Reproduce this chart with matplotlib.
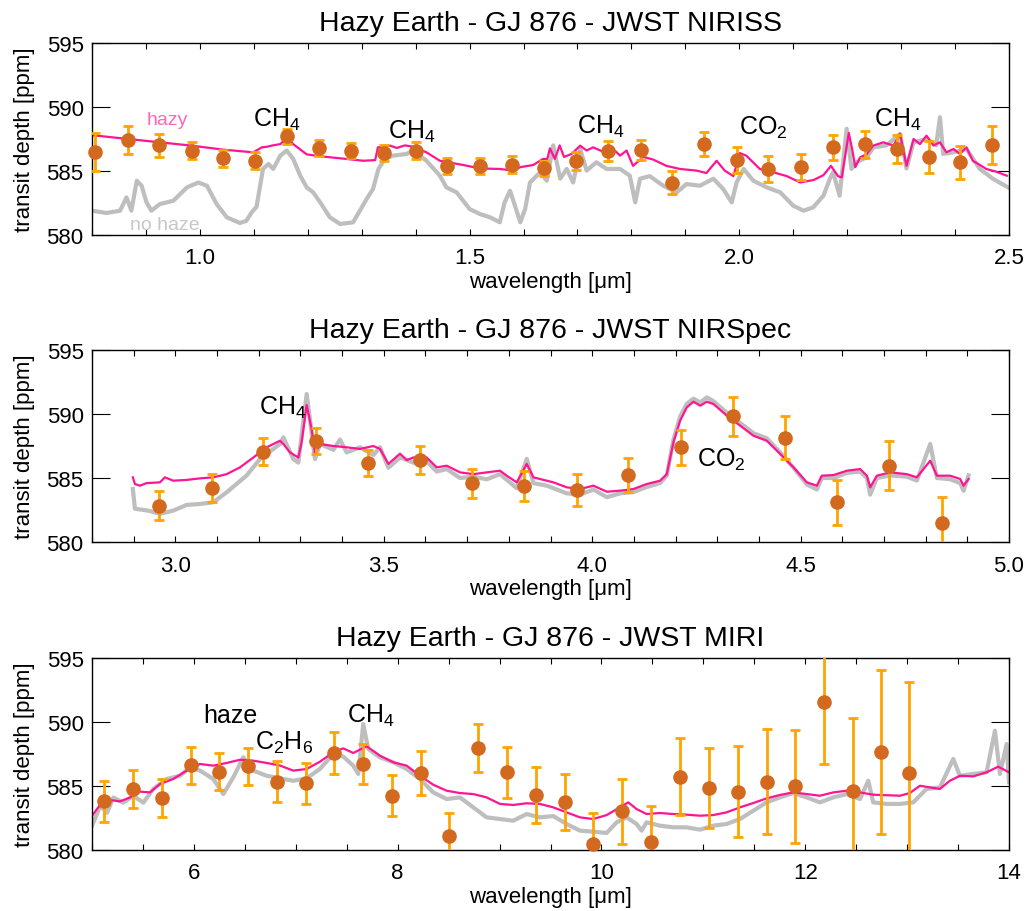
import matplotlib
matplotlib.use("Agg")
import matplotlib.pyplot as plt
from matplotlib.ticker import MultipleLocator, NullLocator

plt.rcParams['font.family'] = ['Liberation Sans', 'DejaVu Sans']
plt.rcParams['mathtext.fontset'] = 'custom'
plt.rcParams['mathtext.rm'] = 'Liberation Sans'
plt.rcParams['mathtext.it'] = 'Liberation Sans'
plt.rcParams['mathtext.default'] = 'regular'

# ---------------- NIRISS ----------------
niriss_hazy_wl = [0.800, 0.867, 0.926, 0.985, 1.043, 1.099, 1.115, 1.125, 1.135, 1.149,
                  1.162, 1.173, 1.198, 1.223, 1.272, 1.303, 1.325, 1.330, 1.353, 1.365,
                  1.380, 1.395, 1.420, 1.445, 1.488, 1.519, 1.556, 1.581, 1.594, 1.618,
                  1.636, 1.644, 1.649, 1.658, 1.667, 1.675, 1.689, 1.705, 1.717, 1.729,
                  1.748, 1.764, 1.779, 1.791, 1.803, 1.822, 1.840, 1.865, 1.890, 1.921,
                  1.939, 1.958, 1.973, 1.989, 2.001, 2.013, 2.038, 2.063, 2.088, 2.113,
                  2.138, 2.156, 2.170, 2.183, 2.190, 2.203, 2.209, 2.215, 2.224, 2.236,
                  2.248, 2.267, 2.286, 2.298, 2.310, 2.323, 2.335, 2.347, 2.360, 2.372,
                  2.384, 2.397, 2.409, 2.421, 2.433, 2.458, 2.476, 2.496]
niriss_hazy = [587.80, 587.50, 587.24, 586.98, 586.67, 586.46, 586.85, 586.90, 587.00, 587.10,
               587.60, 587.10, 586.30, 586.15, 585.94, 585.80, 585.85, 586.85, 586.98, 586.80,
               587.00, 586.90, 586.46, 585.80, 585.47, 585.20, 585.16, 585.03, 585.30, 585.47,
               585.94, 585.94, 586.77, 585.94, 587.00, 586.10, 586.33, 586.98, 586.60, 586.85,
               586.50, 586.80, 586.20, 586.60, 585.40, 586.10, 585.90, 585.40, 585.16, 585.03,
               584.84, 585.80, 585.03, 584.60, 586.40, 586.20, 585.16, 584.90, 584.60, 584.10,
               584.30, 584.68, 585.40, 584.60, 584.50, 587.97, 586.75, 585.30, 586.07, 586.30,
               586.98, 587.24, 586.98, 587.90, 585.40, 587.50, 587.10, 587.76, 587.00, 587.24,
               586.46, 586.72, 586.33, 586.85, 585.80, 585.16, 584.95, 584.63]

niriss_clear_wl = [0.800, 0.827, 0.852, 0.864, 0.873, 0.883, 0.892, 0.901, 0.910, 0.926,
                   0.951, 0.976, 0.997, 1.013, 1.031, 1.050, 1.074, 1.086, 1.096, 1.105,
                   1.117, 1.127, 1.136, 1.149, 1.161, 1.173, 1.186, 1.198, 1.210, 1.223,
                   1.241, 1.260, 1.284, 1.293, 1.309, 1.321, 1.331, 1.343, 1.358, 1.383,
                   1.396, 1.420, 1.445, 1.457, 1.476, 1.500, 1.519, 1.538, 1.556, 1.565,
                   1.575, 1.584, 1.594, 1.603, 1.612, 1.631, 1.643, 1.655, 1.668, 1.680,
                   1.692, 1.705, 1.717, 1.735, 1.754, 1.779, 1.797, 1.807, 1.816, 1.834,
                   1.859, 1.884, 1.902, 1.927, 1.952, 1.970, 1.986, 1.995, 2.008, 2.026,
                   2.051, 2.076, 2.100, 2.119, 2.137, 2.156, 2.168, 2.174, 2.186, 2.199,
                   2.208, 2.217, 2.236, 2.249, 2.273, 2.298, 2.310, 2.323, 2.347, 2.365,
                   2.372, 2.378, 2.397, 2.421, 2.446, 2.470, 2.498]
niriss_clear = [581.90, 581.72, 581.90, 582.94, 581.90, 584.24, 583.85, 582.55, 581.90, 582.42,
                582.68, 583.72, 584.10, 583.85, 582.42, 581.38, 580.94, 581.10, 581.77, 582.20,
                585.16, 585.55, 585.16, 586.20, 586.60, 585.94, 584.64, 583.72, 583.33, 582.55,
                581.38, 580.86, 580.99, 581.64, 582.80, 583.60, 585.16, 585.94, 586.20, 586.33,
                586.60, 585.80, 584.63, 583.72, 583.33, 582.03, 581.64, 581.38, 580.99, 582.55,
                583.46, 582.30, 580.99, 582.03, 584.10, 584.90, 584.24, 587.00, 584.40, 585.16,
                584.10, 586.72, 585.03, 585.68, 585.16, 585.16, 584.64, 582.55, 584.40, 584.60,
                583.85, 583.33, 583.98, 583.85, 584.40, 583.60, 582.55, 584.10, 585.16, 584.24,
                583.72, 583.33, 582.29, 581.90, 582.16, 583.07, 584.40, 584.90, 583.07, 588.30,
                585.16, 585.68, 586.07, 586.85, 587.00, 587.90, 585.20, 587.24, 587.50, 587.00,
                589.20, 586.33, 586.46, 586.72, 585.16, 584.40, 583.72]

niriss_obs_wl = [0.806, 0.867, 0.925, 0.985, 1.043, 1.103, 1.162, 1.221, 1.281, 1.341,
                 1.401, 1.459, 1.519, 1.578, 1.638, 1.697, 1.757, 1.817, 1.876, 1.935,
                 1.995, 2.054, 2.114, 2.173, 2.233, 2.292, 2.352, 2.410, 2.469]
niriss_obs = [586.50, 587.45, 587.00, 586.60, 586.00, 585.80, 587.70, 586.80, 586.60, 586.40,
              586.60, 585.40, 585.40, 585.50, 585.20, 585.76, 586.56, 586.64, 584.10, 587.10,
              585.86, 585.16, 585.30, 586.85, 587.08, 586.72, 586.07, 585.68, 587.05]
niriss_err = [1.50, 1.10, 0.90, 0.70, 0.65, 0.65, 0.60, 0.60, 0.60, 0.65,
              0.65, 0.65, 0.65, 0.65, 0.60, 0.70, 0.75, 0.80, 0.90, 0.95,
              1.00, 1.00, 1.00, 1.00, 1.07, 1.10, 1.25, 1.30, 1.50]

# ---------------- NIRSpec ----------------
nirspec_hazy_wl = [2.898, 2.903, 2.915, 2.931, 2.963, 2.975, 2.995, 3.027, 3.059, 3.091,
                   3.123, 3.155, 3.187, 3.219, 3.251, 3.259, 3.275, 3.295, 3.303, 3.315,
                   3.327, 3.335, 3.347, 3.379, 3.411, 3.443, 3.475, 3.491, 3.511, 3.539,
                   3.555, 3.571, 3.603, 3.627, 3.651, 3.683, 3.715, 3.747, 3.779, 3.795,
                   3.819, 3.843, 3.859, 3.891, 3.907, 3.939, 3.971, 4.003, 4.035, 4.067,
                   4.099, 4.131, 4.163, 4.179, 4.195, 4.211, 4.227, 4.243, 4.259, 4.275,
                   4.291, 4.323, 4.355, 4.387, 4.419, 4.451, 4.483, 4.515, 4.539, 4.551,
                   4.579, 4.611, 4.643, 4.659, 4.667, 4.683, 4.715, 4.755, 4.779, 4.811,
                   4.827, 4.859, 4.883, 4.891, 4.903]
nirspec_hazy = [585.05, 584.53, 584.40, 584.60, 584.66, 585.05, 584.79, 584.85, 584.97, 585.05,
                585.30, 585.83, 586.60, 587.40, 587.91, 587.66, 587.00, 586.60, 587.80, 590.70,
                588.80, 586.90, 587.66, 587.50, 587.40, 587.27, 587.50, 587.27, 586.10, 586.90,
                586.40, 586.60, 586.60, 585.83, 585.96, 585.44, 585.30, 585.44, 585.57, 585.18,
                584.66, 586.10, 585.05, 584.79, 584.66, 584.27, 584.14, 584.40, 583.93, 584.01,
                584.14, 584.53, 584.79, 585.30, 587.79, 589.48, 590.52, 590.96, 590.65, 590.96,
                590.78, 589.87, 589.09, 588.30, 587.91, 586.88, 585.83, 584.66, 584.40, 585.18,
                585.23, 585.57, 585.70, 585.18, 584.27, 585.18, 585.44, 585.30, 585.05, 586.35,
                585.18, 585.18, 584.92, 584.40, 584.92]

nirspec_clear_wl = [2.898, 2.903, 2.935, 2.963, 2.995, 3.027, 3.059, 3.091, 3.123, 3.171,
                    3.203, 3.251, 3.259, 3.283, 3.295, 3.315, 3.335, 3.347, 3.379, 3.395,
                    3.411, 3.443, 3.475, 3.491, 3.511, 3.539, 3.571, 3.603, 3.627, 3.651,
                    3.683, 3.715, 3.747, 3.779, 3.819, 3.843, 3.859, 3.891, 3.939, 3.971,
                    4.003, 4.035, 4.067, 4.099, 4.131, 4.163, 4.179, 4.195, 4.211, 4.227,
                    4.243, 4.259, 4.275, 4.291, 4.323, 4.355, 4.387, 4.419, 4.451, 4.483,
                    4.515, 4.539, 4.551, 4.579, 4.611, 4.643, 4.659, 4.667, 4.683, 4.715,
                    4.755, 4.779, 4.811, 4.827, 4.859, 4.883, 4.891, 4.903]
nirspec_clear = [584.14, 582.60, 582.45, 582.20, 582.45, 582.90, 582.97, 583.10, 583.88, 585.20,
                 586.48, 587.66, 588.18, 586.48, 586.20, 591.56, 586.48, 587.66, 587.20, 588.00,
                 587.00, 587.40, 586.80, 587.40, 585.80, 586.60, 586.20, 586.30, 585.50, 585.70,
                 585.00, 585.10, 584.90, 585.30, 584.20, 586.50, 584.60, 584.40, 583.80, 583.70,
                 584.10, 583.50, 583.80, 583.90, 584.30, 584.60, 585.20, 588.00, 589.80, 590.80,
                 591.20, 590.90, 591.30, 591.00, 590.10, 589.30, 588.50, 588.10, 587.00, 585.80,
                 584.50, 584.10, 585.00, 585.00, 585.40, 585.50, 585.00, 583.70, 585.00, 585.20,
                 585.10, 584.80, 587.66, 585.00, 584.90, 584.60, 584.00, 585.20]

nirspec_obs_wl = [2.961, 3.087, 3.211, 3.337, 3.461, 3.587, 3.712, 3.837,
                  3.963, 4.087, 4.213, 4.337, 4.463, 4.588, 4.713, 4.839]
nirspec_obs = [582.84, 584.24, 587.05, 587.91, 586.17, 586.43, 584.60, 584.40,
               584.06, 585.26, 587.40, 589.82, 588.15, 583.10, 585.96, 581.46]
nirspec_err = [1.12, 1.10, 1.05, 1.00, 1.05, 1.08, 1.13, 1.17,
               1.23, 1.33, 1.37, 1.50, 1.67, 1.77, 1.92, 2.03]

# ---------------- MIRI ----------------
miri_hazy_wl = [5.000, 5.111, 5.177, 5.275, 5.373, 5.471, 5.569, 5.667, 5.798, 5.929,
                6.060, 6.190, 6.322, 6.452, 6.583, 6.714, 6.845, 6.975, 7.107, 7.237,
                7.368, 7.466, 7.564, 7.696, 7.826, 7.957, 8.088, 8.219, 8.349, 8.481,
                8.611, 8.742, 8.873, 9.004, 9.134, 9.266, 9.396, 9.527, 9.658, 9.789,
                9.920, 10.051, 10.180, 10.263, 10.345, 10.443, 10.574, 10.705, 10.836, 10.967,
                11.098, 11.228, 11.359, 11.490, 11.621, 11.752, 11.882, 12.014, 12.144, 12.275,
                12.406, 12.537, 12.667, 12.798, 12.929, 13.027, 13.126, 13.224, 13.322, 13.420,
                13.518, 13.649, 13.780, 13.894, 14.000]
miri_hazy = [582.68, 583.85, 583.90, 583.80, 584.10, 584.56, 584.50, 585.16, 585.55, 586.20,
             586.72, 586.59, 586.80, 587.05, 586.98, 586.80, 586.60, 586.20, 586.33, 586.90,
             587.63, 587.94, 587.58, 588.10, 587.37, 586.85, 586.59, 585.80, 585.10, 584.63,
             584.45, 584.37, 584.11, 583.60, 583.52, 583.65, 583.60, 583.33, 582.94, 582.55,
             582.42, 582.73, 583.33, 583.72, 583.20, 582.81, 582.89, 582.81, 582.76, 582.68,
             582.73, 582.94, 583.33, 583.67, 584.03, 584.30, 584.50, 584.37, 584.24, 584.50,
             584.63, 584.50, 584.32, 584.28, 584.24, 584.45, 585.02, 584.89, 584.77, 585.41,
             585.80, 585.75, 586.07, 586.51, 586.07]

miri_clear_wl = [5.000, 5.082, 5.147, 5.209, 5.307, 5.405, 5.504, 5.602, 5.733, 5.864,
                 5.962, 6.060, 6.190, 6.289, 6.387, 6.485, 6.583, 6.714, 6.845, 6.975,
                 7.107, 7.237, 7.368, 7.466, 7.564, 7.613, 7.662, 7.711, 7.826, 7.957,
                 8.088, 8.219, 8.349, 8.481, 8.611, 8.742, 8.873, 9.004, 9.134, 9.266,
                 9.396, 9.527, 9.658, 9.789, 9.920, 10.051, 10.149, 10.247, 10.345, 10.394,
                 10.443, 10.574, 10.705, 10.836, 10.967, 11.098, 11.228, 11.359, 11.490, 11.621,
                 11.752, 11.882, 12.014, 12.144, 12.275, 12.406, 12.537, 12.619, 12.667, 12.798,
                 12.929, 13.060, 13.191, 13.322, 13.453, 13.518, 13.649, 13.780, 13.862, 13.911,
                 13.977, 14.000]
miri_clear = [581.90, 583.46, 582.90, 584.10, 583.70, 584.24, 583.70, 584.77, 585.55, 585.80,
              586.46, 586.20, 585.55, 584.37, 585.68, 587.24, 586.20, 585.80, 585.60, 585.41,
              585.60, 586.33, 587.50, 587.30, 586.59, 585.94, 589.84, 587.90, 587.24, 586.85,
              586.33, 585.55, 584.50, 583.98, 584.11, 583.33, 582.55, 582.42, 582.29, 582.81,
              582.55, 582.65, 582.03, 581.51, 581.43, 581.33, 582.16, 582.55, 582.03, 581.51,
              582.16, 581.90, 581.77, 581.77, 581.59, 581.90, 582.03, 582.42, 583.07, 583.72,
              584.11, 584.45, 584.11, 583.72, 584.11, 584.37, 583.98, 585.41, 583.72, 583.60,
              583.60, 583.72, 584.77, 584.89, 587.11, 585.80, 585.94, 586.07, 589.32, 585.94,
              588.28, 585.29]

miri_obs_wl = [5.118, 5.399, 5.684, 5.969, 6.249, 6.534, 6.813, 7.097, 7.378, 7.663,
               7.947, 8.226, 8.504, 8.791, 9.076, 9.354, 9.642, 9.920, 10.204, 10.486,
               10.770, 11.055, 11.337, 11.621, 11.899, 12.184, 12.465, 12.743, 13.021]
miri_obs = [583.80, 584.77, 584.06, 586.62, 586.12, 586.54, 585.34, 585.23, 587.55, 586.72,
            584.24, 585.99, 581.07, 587.97, 586.07, 584.32, 583.73, 580.47, 583.02, 580.65,
            585.73, 584.82, 584.55, 585.34, 584.97, 591.54, 584.63, 587.63, 585.99]
miri_err = [1.60, 1.50, 1.45, 1.45, 1.45, 1.43, 1.60, 1.60, 1.63, 1.60,
            1.60, 1.73, 1.80, 1.87, 2.00, 2.20, 2.20, 2.40, 2.54, 2.80,
            3.00, 3.13, 3.57, 4.10, 4.40, 4.80, 5.70, 6.40, 7.10]

HAZY_COLOR = '#ff1493'
CLEAR_COLOR = '#bebebe'
POINT_COLOR = '#d2691e'
ERR_COLOR = '#ffa500'

fig = plt.figure(figsize=(10.28, 9.12), dpi=100)
W, H = 1028.0, 912.0
left, right = 92 / W, 1009 / W
panel_px = [(44, 236), (351, 543), (659, 851)]

panels = [
    dict(title='Hazy Earth - GJ 876 - JWST NIRISS', xlim=(0.8, 2.5),
         xticks=[1.0, 1.5, 2.0, 2.5], xlabels=['1.0', '1.5', '2.0', '2.5'], minor=0.1,
         hwl=niriss_hazy_wl, hy=niriss_hazy, cwl=niriss_clear_wl, cy=niriss_clear,
         owl=niriss_obs_wl, oy=niriss_obs, oe=niriss_err),
    dict(title='Hazy Earth - GJ 876 - JWST NIRSpec', xlim=(2.8, 5.0),
         xticks=[3.0, 3.5, 4.0, 4.5, 5.0], xlabels=['3.0', '3.5', '4.0', '4.5', '5.0'], minor=0.1,
         hwl=nirspec_hazy_wl, hy=nirspec_hazy, cwl=nirspec_clear_wl, cy=nirspec_clear,
         owl=nirspec_obs_wl, oy=nirspec_obs, oe=nirspec_err),
    dict(title='Hazy Earth - GJ 876 - JWST MIRI', xlim=(5, 14),
         xticks=[6, 8, 10, 12, 14], xlabels=['6', '8', '10', '12', '14'], minor=0.5,
         hwl=miri_hazy_wl, hy=miri_hazy, cwl=miri_clear_wl, cy=miri_clear,
         owl=miri_obs_wl, oy=miri_obs, oe=miri_err),
]

axes = []
for (top_px, bot_px), p in zip(panel_px, panels):
    ax = fig.add_axes([left, 1 - bot_px / H, right - left, (bot_px - top_px) / H])
    axes.append(ax)
    ax.plot(p['cwl'], p['cy'], color=CLEAR_COLOR, lw=3.0, zorder=1, solid_joinstyle='round')
    ax.plot(p['hwl'], p['hy'], color=HAZY_COLOR, lw=1.6, zorder=2)
    ax.errorbar(p['owl'], p['oy'], yerr=p['oe'], fmt='none', ecolor=ERR_COLOR,
                elinewidth=2.0, capsize=3.6, capthick=2.0, zorder=3)
    ax.plot(p['owl'], p['oy'], 'o', color=POINT_COLOR, ms=9.5, mec=POINT_COLOR,
            zorder=4, clip_on=False)
    ax.set_xlim(*p['xlim'])
    ax.set_ylim(580, 595)
    ax.set_xticks(p['xticks'])
    ax.set_xticklabels(p['xlabels'])
    ax.xaxis.set_minor_locator(MultipleLocator(p['minor']))
    ax.set_yticks([580, 585, 590, 595])
    ax.yaxis.set_minor_locator(NullLocator())
    ax.tick_params(axis='both', which='both', direction='in', top=True, right=True,
                   labelsize=16, width=0.8, color='black')
    ax.tick_params(axis='x', which='both', length=4.3, pad=9)
    ax.tick_params(axis='y', which='major', length=13, pad=6)
    for s in ax.spines.values():
        s.set_linewidth(1.0)
    ax.set_title(p['title'], fontsize=20.5, pad=9.5)
    ax.set_xlabel(u'wavelength [\u03bcm]', fontsize=16, labelpad=2)
    ax.set_ylabel('transit depth [ppm]', fontsize=16, labelpad=8)

ann = dict(fontsize=18, ha='left', va='baseline', color='black', zorder=5)
ax1, ax2, ax3 = axes
ax1.text(0.901, 588.67, 'hazy', fontsize=14, color='#ff69b4', ha='left', va='baseline')
ax1.text(0.870, 580.47, 'no haze', fontsize=14, color='#c8c8c8', ha='left', va='baseline')
ax1.text(1.099, 588.54, 'CH$_4$', **ann)
ax1.text(1.349, 587.63, 'CH$_4$', **ann)
ax1.text(1.700, 588.02, 'CH$_4$', **ann)
ax1.text(2.000, 587.89, 'CO$_2$', **ann)
ax1.text(2.250, 588.54, 'CH$_4$', **ann)

ax2.text(3.200, 590.00, 'CH$_4$', **ann)
ax2.text(4.251, 585.96, 'CO$_2$', **ann)

ax3.text(6.093, 590.02, 'haze', **ann)
ax3.text(6.600, 587.89, 'C$_2$H$_6$', **ann)
ax3.text(7.500, 589.98, 'CH$_4$', **ann)

fig.savefig('out.png', dpi=100)
